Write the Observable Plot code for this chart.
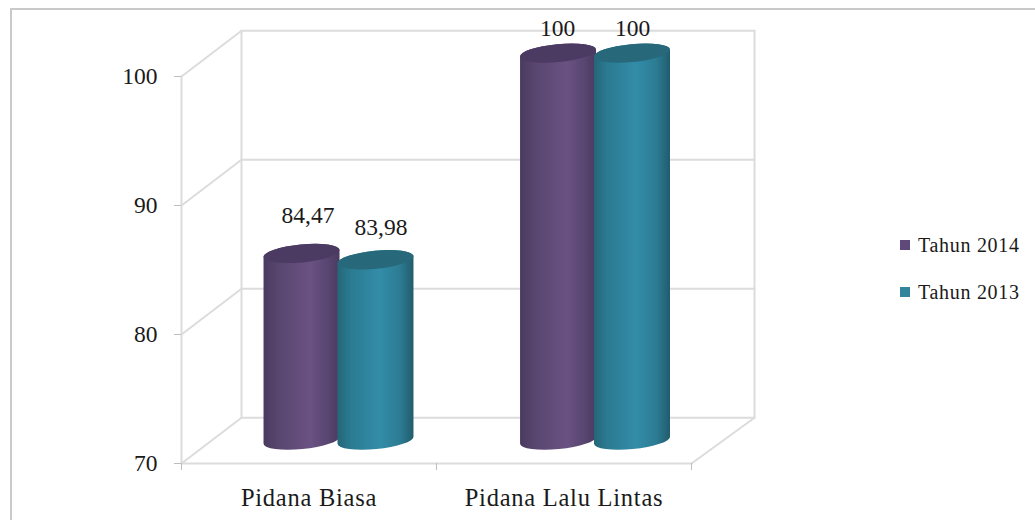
<!DOCTYPE html>
<html lang="id">
<head>
<meta charset="utf-8">
<script src="https://cdn.jsdelivr.net/npm/d3@7"></script>
<script src="https://cdn.jsdelivr.net/npm/@observablehq/plot@0.6"></script>
<style>
  html, body { margin: 0; background: #fff; overflow: hidden; }
  #stage { position: relative; width: 1035px; height: 520px; font-family: "Liberation Serif", serif; color: #1a1a1a; }
  #stage svg { position: absolute; left: 0; top: 0; overflow: visible; }
  #edge { position: absolute; left: 10px; top: 8px; right: 0; bottom: 0; border-left: 2px solid #c9c9c9; border-top: 2px solid #c9c9c9; }
  .key { position: absolute; left: 900px; display: flex; align-items: center; font-size: 20px; letter-spacing: 0.7px; white-space: nowrap; }
  .key i { display: inline-block; width: 10px; height: 10px; margin-right: 8px; margin-top: -2px; }
</style>
</head>
<body>
<div id="stage"><div id="edge"></div></div>
<script>
// Persentase perkara per jenis pidana
const categories = ["Pidana Biasa", "Pidana Lalu Lintas"];
const seriesNames = ["Tahun 2014", "Tahun 2013"];
const values2014 = [84.47, 100];
const values2013 = [83.98, 100];
const valueLabels = [["84,47", "100"], ["83,98", "100"]];
const yTicks = [70, 80, 90, 100];

// Colours and shading of each series
const swatch = ["#5f497a", "#31859c"];
const capFill = ["#4b3a61", "#27687b"];
const shading = [
  [[0, "#4a3a5f"], [0.18, "#58456f"], [0.62, "#6a5282"], [0.85, "#584570"], [1, "#4b3a60"]],
  [[0, "#256678"], [0.18, "#2b7b92"], [0.55, "#338ca8"], [0.82, "#2c7c93"], [1, "#215c6d"]]
];

// Depth of the box in axis units: how far the back wall sits from the front plane
const depthX = 60 / 255;
const depthY = 3.55;
const backRight = 2 + 63 / 255;
const barWidth = 0.298;
const barOverlap = 0.008;
const categoryStep = 1.006;
const capTilt = -5.5;
const capRy = 9;

// One row per cylinder; bars stand halfway along the depth of the box
const bars = [values2014, values2013].flatMap((vals, s) =>
  vals.map((value, c) => {
    const mid = 0.5 + c * categoryStep + depthX / 2;
    const left = mid + (s - 1) * barWidth - (s - 0.5) * barOverlap;
    return {
      series: s,
      value,
      label: valueLabels[s][c],
      x1: left,
      x2: left + barWidth,
      top: value + depthY / 2,
      base: 70 + depthY / 2
    };
  })
);

// Label nudges (px), in row order, so the numbers clear the cylinder caps
const labelNudges = [[6, -38], [-1, -25], [5, -33], [0, -25]];

// Wall and floor lines of the box, as pairs of axis-space points
const wallLines = [
  ...yTicks.map(v => [[0, v], [depthX, v + depthY]]),
  ...yTicks.map(v => [[depthX, v + depthY], [backRight, v + depthY]]),
  [[depthX, 70 + depthY], [depthX, 100 + depthY]],
  [[backRight, 70 + depthY], [backRight, 100 + depthY]],
  [[2, 70], [backRight, 70 + depthY]],
  [[0, 70], [0, 100]],
  [[0, 70], [2, 70]]
].map((pts, id) => pts.map(([x, y]) => ({id, x, y})));

// Custom mark: vertical gradient-shaded cylinders placed through the chart scales
function cylinders(rows) {
  return (index, {x, y}) => {
    const g = d3.create("svg:g");
    const defs = g.append("defs");
    shading.forEach((stops, s) => {
      const grad = defs.append("linearGradient").attr("id", `shade-${s}`);
      stops.forEach(([o, c]) => grad.append("stop").attr("offset", o).attr("stop-color", c));
    });
    const rad = capTilt * Math.PI / 180;
    for (const d of rows) {
      const xa = x(d.x1), xb = x(d.x2), cx = (xa + xb) / 2, rx = (xb - xa) / 2;
      const lift = rx * Math.tan(rad);
      const yT = y(d.top), yB = y(d.base);
      const arc = `A${rx / Math.cos(rad)},${capRy} ${capTilt} 0`;
      g.append("path")
        .attr("fill", `url(#shade-${d.series})`)
        .attr("d", `M${xa},${yT - lift}L${xa},${yB - lift}${arc} 0 ${xb},${yB + lift}L${xb},${yT + lift}${arc} 0 ${xa},${yT - lift}Z`);
      g.append("ellipse")
        .attr("fill", capFill[d.series])
        .attr("cx", cx).attr("cy", yT)
        .attr("rx", rx / Math.cos(rad)).attr("ry", capRy)
        .attr("transform", `rotate(${capTilt} ${cx} ${yT})`);
    }
    return g.node();
  };
}

const chart = Plot.plot({
  width: 1035,
  height: 520,
  marginLeft: 181,
  marginRight: 344,
  marginTop: 76,
  marginBottom: 57,
  style: {background: "transparent", fontFamily: "Liberation Serif, serif", color: "#1a1a1a"},
  x: {domain: [0, 2], axis: null},
  y: {domain: [70, 100], axis: null},
  marks: [
    ...wallLines.map(pts => Plot.line(pts, {x: "x", y: "y", stroke: "#dcdcdc", strokeWidth: 2})),
    Plot.axisY({ticks: yTicks, tickSize: 7, tickPadding: 17, fontSize: 23.5, stroke: "#bdbdbd", fill: "#1a1a1a", label: null, tickFormat: d => d}),
    Plot.axisX({ticks: [0, 1, 2], tickSize: 7, tickFormat: () => "", stroke: "#bdbdbd", label: null}),
    Plot.text(categories, {
      x: (d, i) => i + 0.5,
      y: 70,
      text: d => d,
      dy: 35,
      fontSize: 24.5,
      fill: "#1a1a1a",
      render(index, scales, values, dims, ctx, next) {
        const node = next(index, scales, values, dims, ctx);
        node.style.letterSpacing = "0.75px";
        return node;
      }
    }),
    cylinders(bars),
    ...bars.map((d, i) => Plot.text([d], {
      x: r => (r.x1 + r.x2) / 2,
      y: "top",
      text: "label",
      dx: labelNudges[i][0],
      dy: labelNudges[i][1],
      fontSize: 23.5,
      fill: "#1a1a1a"
    }))
  ]
});

const stage = document.getElementById("stage");
stage.appendChild(chart);

// Series key at the right of the plot
seriesNames.forEach((name, s) => {
  const key = document.createElement("div");
  key.className = "key";
  key.style.top = (s === 0 ? 234 : 281) + "px";
  const mark = document.createElement("i");
  mark.style.background = swatch[s];
  key.append(mark, name);
  stage.appendChild(key);
});
</script>
</body>
</html>
